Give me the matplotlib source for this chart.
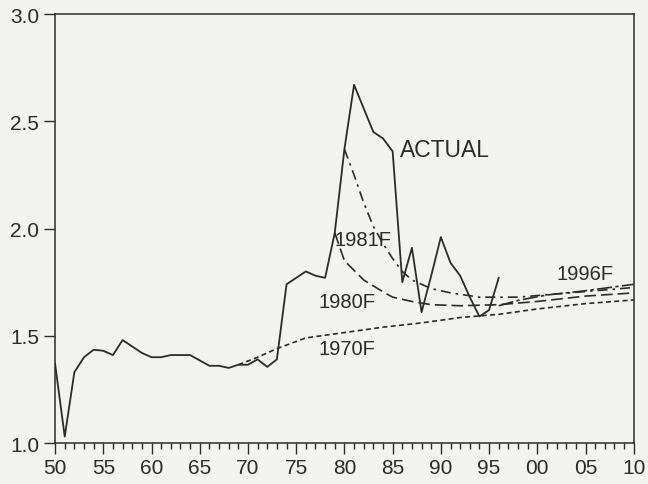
import numpy as np
import matplotlib.pyplot as plt

plt.rcParams['font.family'] = ['Liberation Sans', 'DejaVu Sans']

# actual series, annual 1950-1996
years = list(range(1950, 1997))
actual = [1.37, 1.03, 1.33, 1.40, 1.435, 1.43, 1.41, 1.48, 1.45, 1.42,
          1.40, 1.40, 1.41, 1.41, 1.41, 1.385, 1.36, 1.36, 1.35, 1.365,
          1.365, 1.39, 1.355, 1.39, 1.74, 1.77, 1.80, 1.78, 1.77, 1.98,
          2.37, 2.67, 2.56, 2.45, 2.42, 2.36, 1.75, 1.91, 1.61, 1.78,
          1.96, 1.84, 1.78, 1.68, 1.59, 1.62, 1.77]

# forecasts
f70_years = [1969, 1971, 1973, 1976, 1980, 1984, 1988, 1992, 1996, 2000, 2005, 2010]
f70 = [1.365, 1.40, 1.44, 1.49, 1.515, 1.54, 1.56, 1.585, 1.60, 1.625, 1.65, 1.667]

f80_years = [1979, 1980, 1982, 1984, 1985, 1987, 1989, 1992, 1996, 2000, 2005, 2010]
f80 = [1.98, 1.85, 1.76, 1.705, 1.68, 1.66, 1.645, 1.64, 1.645, 1.66, 1.685, 1.70]

f81_years = [1980, 1981, 1982, 1983, 1984, 1985, 1986, 1987, 1989, 1991, 1994, 1998, 2002, 2006, 2010]
f81 = [2.37, 2.25, 2.12, 2.01, 1.93, 1.86, 1.80, 1.76, 1.72, 1.70, 1.68, 1.68, 1.695, 1.71, 1.725]

f96_years = [1996, 1998, 2001, 2005, 2010]
f96 = [1.64, 1.665, 1.69, 1.71, 1.74]

xticks = list(range(1950, 2011, 5))
xlabels = ['50', '55', '60', '65', '70', '75', '80', '85', '90', '95', '00', '05', '10']
yticks = [1.0, 1.5, 2.0, 2.5, 3.0]

bg = '#f2f2f0'
ink = '#2b2b2b'

fig = plt.figure(figsize=(6.48, 4.85), dpi=100, facecolor=bg)
ax = fig.add_axes([0.085, 0.0845, 0.893, 0.8845], facecolor=bg)

ax.plot(years, actual, color=ink, lw=1.3)
ax.plot(f70_years, f70, color=ink, lw=1.2, dashes=(3, 2))
ax.plot(f80_years, f80, color=ink, lw=1.2, dashes=(7, 3))
ax.plot(f81_years, f81, color=ink, lw=1.2, dashes=(6, 3, 1.5, 3))
ax.plot(f96_years, f96, color=ink, lw=1.2, dashes=(9, 2, 2, 2))

ax.text(1985.8, 2.37, 'ACTUAL', fontsize=16.5, color=ink, va='center')
ax.text(1979.0, 1.95, '1981F', fontsize=14.5, color=ink, va='center')
ax.text(1977.3, 1.66, '1980F', fontsize=14.5, color=ink, va='center')
ax.text(1977.3, 1.44, '1970F', fontsize=14.5, color=ink, va='center')
ax.text(2002.0, 1.79, '1996F', fontsize=14.5, color=ink, va='center')

ax.set_xlim(1950, 2010)
ax.set_ylim(1.0, 3.0)
ax.set_xticks(xticks)
ax.set_xticklabels(xlabels)
ax.set_xticks(range(1950, 2011), minor=True)
ax.set_yticks(yticks)
ax.set_yticklabels(['%.1f' % v for v in yticks])

ax.tick_params(axis='both', which='major', labelsize=15, colors=ink, length=8, width=1, direction='out')
ax.tick_params(axis='x', which='minor', length=4, width=1, color=ink, direction='out')
ax.tick_params(axis='x', pad=3)

for s in ax.spines.values():
    s.set_color(ink)
    s.set_linewidth(1.1)

fig.savefig('out.png', dpi=100, facecolor=bg)
